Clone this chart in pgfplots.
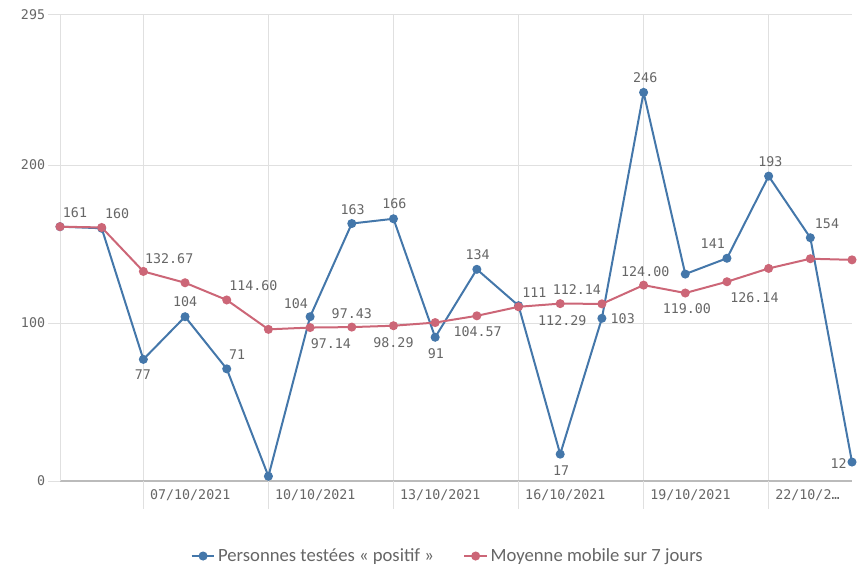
\documentclass[border=0pt]{standalone}
\usepackage{fontspec}
\setmainfont{Carlito}
\newfontfamily\monof{DejaVu Sans Mono}
\usepackage{pgfplots}
\pgfplotsset{compat=1.18}
\definecolor{cblue}{HTML}{4477AA}
\definecolor{cred}{HTML}{CC6677}
\definecolor{tgray}{HTML}{666666}
\definecolor{gridc}{HTML}{E0E0E0}
\definecolor{axgray}{HTML}{BBBBBB}
\tikzset{lbl/.style={font=\monof\fontsize{10}{12}\selectfont, text=tgray, inner sep=0pt}}
\begin{document}
\begin{tikzpicture}
\begin{axis}[
  scale only axis, width=594pt, height=349.5pt,
  xmin=0, xmax=19, ymin=0, ymax=295,
  axis x line=bottom, axis y line=left,
  x axis line style={-, draw=axgray, line width=1.2pt},
  y axis line style={-, draw=gridc, line width=0.75pt},
  xtick={2,5,8,11,14,17},
  xticklabels={07/10/2021,10/10/2021,13/10/2021,16/10/2021,19/10/2021,22/10/2…},
  ytick={0,100,200,295},
  grid=major, major grid style={draw=gridc, line width=0.75pt},
  tick align=outside, major tick length=9pt,
  ytick style={draw=gridc, line width=0.75pt},
  xtick style={draw=none},
  /pgf/number format/assume math mode=true,
  ticklabel style={font=\monof\fontsize{10}{12}\selectfont, text=tgray},
  yticklabel style={inner sep=2pt},
  xticklabel style={anchor=north west, xshift=1.5pt, yshift=6pt},
  clip mode=individual,
  legend style={at={(0.49,-0.161)}, anchor=center, legend columns=2, draw=none,
    font=\fontsize{14}{16}\selectfont, text=tgray,
    /tikz/every even column/.append style={column sep=20pt}},
  legend cell align=left,
]
\coordinate (O) at (rel axis cs:0,0);
\foreach \xx in {2,5,8,11,14,17} {
  \edef\temp{\noexpand\draw[gridc, line width=0.75pt] (axis cs:\xx,0) -- ++(0,-21pt);}
  \temp
}
\addplot[cblue, line width=1.5pt, mark=*, mark size=2.6pt, mark options={fill=cblue, draw=cblue}] table {
x y
0 161
1 160
2 77
3 104
4 71
5 3
6 104
7 163
8 166
9 91
10 134
11 111
12 17
13 103
14 246
15 131
16 141
17 193
18 154
19 12
};
\addlegendentry{Personnes testées « positif »}
\addplot[cred, line width=1.5pt, mark=*, mark size=2.6pt, mark options={fill=cred, draw=cred}] table {
x y
0 161
1 160.5
2 132.67
3 125.5
4 114.6
5 96.0
6 97.14
7 97.43
8 98.29
9 100.29
10 104.57
11 110.29
12 112.29
13 112.14
14 124.00
15 119.00
16 126.14
17 134.57
18 140.71
19 140.00
};
\addlegendentry{Moyenne mobile sur 7 jours}
% blue labels
\node[lbl] at (axis cs:0.36,169.6) {161};
\node[lbl] at (axis cs:1.37,169.0) {160};
\node[lbl] at (axis cs:1.99,67.1) {77};
\node[lbl] at (axis cs:3.0,113.3) {104};
\node[lbl] at (axis cs:4.25,79.7) {71};
\node[lbl] at (axis cs:5.66,112.5) {104};
\node[lbl] at (axis cs:7.02,172) {163};
\node[lbl] at (axis cs:8.02,175.3) {166};
\node[lbl] at (axis cs:9.02,80.8) {91};
\node[lbl] at (axis cs:10.02,143) {134};
\node[lbl] at (axis cs:11.38,119.2) {111};
\node[lbl] at (axis cs:12.02,6.5) {17};
\node[lbl] at (axis cs:13.5,102.5) {103};
\node[lbl] at (axis cs:14.04,255.3) {246};
\node[lbl] at (axis cs:15.66,150) {141};
\node[lbl] at (axis cs:17.04,202.1) {193};
\node[lbl] at (axis cs:18.4,163.1) {154};
\node[lbl] at (axis cs:18.68,10.8) {12};
% red labels
\node[lbl] at (axis cs:2.62,141) {132.67};
\node[lbl] at (axis cs:4.64,123.4) {114.60};
\node[lbl] at (axis cs:6.5,87.1) {97.14};
\node[lbl] at (axis cs:7.0,105.7) {97.43};
\node[lbl] at (axis cs:8.0,87.8) {98.29};
\node[lbl] at (axis cs:10.02,94.5) {104.57};
\node[lbl] at (axis cs:12.05,101.5) {112.29};
\node[lbl] at (axis cs:12.4,120.9) {112.14};
\node[lbl] at (axis cs:14.04,132.5) {124.00};
\node[lbl] at (axis cs:15.04,109.3) {119.00};
\node[lbl] at (axis cs:16.66,116.3) {126.14};
\end{axis}
\pgfresetboundingbox
\path[use as bounding box] ([shift={(-45pt,-68.25pt)}]O) rectangle ([shift={(605.25pt,360.75pt)}]O);
\end{tikzpicture}
\end{document}
